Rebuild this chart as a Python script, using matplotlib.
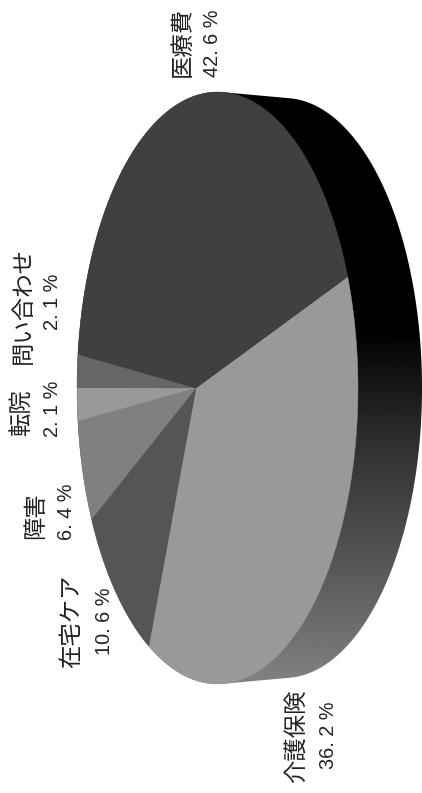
import numpy as np
import matplotlib
matplotlib.use('Agg')
import matplotlib.pyplot as plt
from matplotlib.patches import Polygon

# values, clockwise on screen from the 介護保険 / 医療費 boundary
categories = ['介護保険', '在宅ケア', '障害', '転院', '問い合わせ', '医療費']
values = [36.2, 10.6, 6.4, 2.1, 2.1, 42.6]
value_labels = ['36. 2 %', '10. 6 %', '6. 4 %', '2. 1 %', '2. 1 %', '42. 6 %']
slice_colors = ['#999999', '#555555', '#808080', '#999999', '#666666', '#404040']

# label anchors in pixels: centre x and lower end of the rotated text
name_pos = [(296, 783), (72, 668), (35.5, 539), (22, 436), (23, 364), (182, 77)]
value_pos = [(328, 769), (104.5, 655), (66.5, 540), (53, 437), (53, 330), (213, 77)]

# pie geometry (pixels)
apex_x, apex_y = 196, 388
scale_x, scale_y = 137.2, 292.5
persp = -0.153
start_deg = -19

# lower rim ellipse
rim_x, rim_y, rim_a, rim_b = 284, 388, 138, 290

# gradient of the side wall
grad_y = [0, 330, 450, 560, 680, 793]
grad_v = [0, 0, 50, 85, 128, 128]


def project(theta):
    u, v = np.cos(theta), np.sin(theta)
    d = 1 + persp * u
    return apex_x + scale_x * u / d, apex_y + scale_y * v / d


def hull(pts):
    pts = sorted(map(tuple, pts))
    def half(seq):
        out = []
        for p in seq:
            while len(out) > 1 and ((out[-1][0]-out[-2][0])*(p[1]-out[-2][1])
                                    - (out[-1][1]-out[-2][1])*(p[0]-out[-2][0])) <= 0:
                out.pop()
            out.append(p)
        return out[:-1]
    return np.array(half(pts) + half(pts[::-1]))


fig = plt.figure(figsize=(4.22, 7.93), dpi=100)
ax = fig.add_axes([0, 0, 1, 1])
ax.set_xlim(0, 422)
ax.set_ylim(793, 0)
ax.axis('off')

# side wall
t = np.linspace(0, 2*np.pi, 721)
top_x, top_y = project(t)
low_x = rim_x + rim_a * np.cos(t)
low_y = rim_y + rim_b * np.sin(t)
outline = hull(np.vstack([np.c_[top_x, top_y], np.c_[low_x, low_y]]))
wall = Polygon(outline, closed=True, fc='none', ec='none')
ax.add_patch(wall)
ys = np.arange(0, 794)
grad = np.interp(ys, grad_y, grad_v).reshape(-1, 1) / 255.0
im = ax.imshow(grad, extent=[0, 422, 793, 0], aspect='auto', cmap='gray',
               vmin=0, vmax=1, interpolation='bilinear')
im.set_clip_path(wall)
ax.set_xlim(0, 422)
ax.set_ylim(793, 0)

# top face
edges = np.deg2rad(start_deg + 3.6 * np.concatenate([[0], np.cumsum(values)]))
for i, col in enumerate(slice_colors):
    a = np.linspace(edges[i], edges[i+1], 200)
    x, y = project(a)
    ax.fill(np.r_[apex_x, x], np.r_[apex_y, y], fc=col, ec=col, lw=0.3)

for i in range(len(categories)):
    ax.text(name_pos[i][0], name_pos[i][1], categories[i], rotation=90, ha='center', va='bottom',
            fontsize=16.8, color='#222222', family=['Noto Sans CJK JP', 'DejaVu Sans'])
    ax.text(value_pos[i][0], value_pos[i][1], value_labels[i], rotation=90, ha='center', va='bottom',
            fontsize=14.3, color='#222222', family='Liberation Sans')

fig.savefig('out.png', dpi=100)
